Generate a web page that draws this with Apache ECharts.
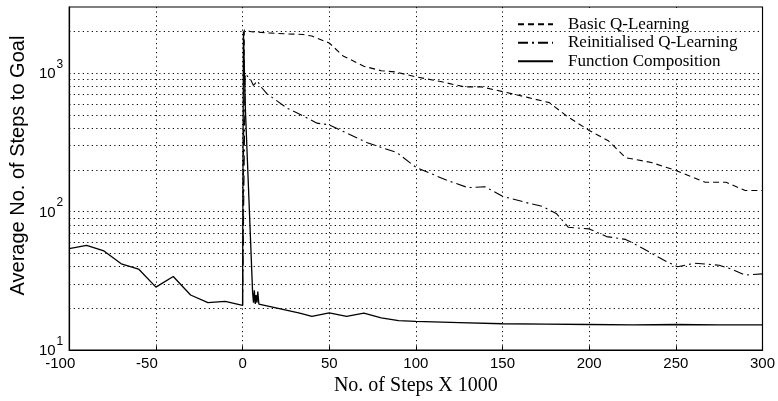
<!DOCTYPE html>
<html><head><meta charset="utf-8">
<script src="https://cdn.jsdelivr.net/npm/echarts@6/dist/echarts.min.js"></script>
<style>html,body{margin:0;padding:0;background:#fff}#c{width:778px;height:401px}</style>
</head><body><div id="c"></div>
<script>
const xTicks = [-100, -50, 0, 50, 100, 150, 200, 250, 300];
const seriesNames = ['Basic Q-Learning', 'Reinitialised Q-Learning', 'Function Composition'];

const basicX = [0,1,5,15,25,35,40,50,58,70,80,88,100,115,128,138,150,165,177,187,200,211,221,236,250,267,279,290,300];
const basicY = [21,2050,1990,1950,1920,1900,1850,1650,1330,1120,1040,1020,940,865,795,795,735,665,612,490,385,325,245,226,198,163,163,142,142];

const reinitX = [0,1.5,4.6,6.3,8.6,10.3,14,26,33,43,50,56,72,89,100,118,130,140,150,165,173,181,188,200,210,221,229,244,251,261,275,282,290,300];
const reinitY = [21,990,900,815,880,805,710,555,505,435,423,390,314,267,209,168,149,151,129,115,109,97,77,75,66,63,56,44,40,42.4,41,38.5,34.8,35.5];

const fcX = [-100,-90,-80,-70,-60,-50,-40,-30,-20,-10,0,0.5,1.6,5.8,6.3,6.8,7.3,7.8,8.3,8.8,9.4,10.3,33,40,50,60,70,80,90,100,125,150,175,200,225,250,275,300];
const fcY = [54,57,52,42,38.5,28.5,34,25,22,22.5,21,2000,560,26,22,27,21.5,25,22,26.5,21.5,21.2,18.5,17.5,18.6,17.5,18.5,17.1,16.3,16.1,15.8,15.5,15.4,15.3,15.2,15.3,15.2,15.2];

const yGridValues = [20,30,40,50,60,70,80,90,100,200,300,400,500,600,700,800,900,1000,2000];

function zip(xs, ys) { return xs.map((x, i) => [x, ys[i]]); }

const SANS = '"Liberation Sans", Arial, Helvetica, sans-serif';
const SERIF = '"Liberation Serif", "Times New Roman", serif';

const chart = echarts.init(document.getElementById('c'), null, {renderer: 'canvas'});
chart.setOption({
  animation: false,
  backgroundColor: '#fff',
  grid: {left: 68, right: 13, top: 7, bottom: 45, show: true, borderColor: '#000', borderWidth: 1.2, backgroundColor: 'transparent'},
  legend: {
    data: seriesNames,
    orient: 'vertical',
    left: 508, top: 8,
    padding: [7, 24, 6, 9],
    backgroundColor: '#fff',
    itemWidth: 35, itemHeight: 10, itemGap: 0,
    itemStyle: {opacity: 0},
    textStyle: {fontFamily: SERIF, fontSize: 17, color: '#000', lineHeight: 18.5, padding: [0, 0, 0, 10]}
  },
  xAxis: {
    type: 'value', min: xTicks[0], max: xTicks[xTicks.length - 1], interval: 50,
    name: 'No. of Steps X 1000', nameLocation: 'middle', nameGap: 21,
    nameTextStyle: {fontFamily: SERIF, fontSize: 20, color: '#000'},
    axisLine: {show: true, onZero: false, lineStyle: {color: '#000', width: 1.2}},
    axisTick: {show: true, inside: true, length: 4, lineStyle: {color: '#000'}},
    axisLabel: {
      fontFamily: SANS, fontSize: 15, color: '#000', margin: 6,
      showMinLabel: true, showMaxLabel: true,
      formatter: v => v < 0 ? '{n|' + v + '}' : String(v),
      rich: {n: {fontFamily: SANS, fontSize: 15, color: '#000', padding: [0, 18, 0, 0]}}
    },
    splitLine: {show: true, lineStyle: {color: '#000', type: [1.2, 3.3], width: 1}}
  },
  yAxis: {
    type: 'log', logBase: 10, min: 10, max: 3000,
    name: 'Average No. of Steps to Goal', nameLocation: 'middle', nameGap: 38,
    nameTextStyle: {fontFamily: SANS, fontSize: 20, color: '#000', padding: [0, 0, 0, 26]},
    axisLine: {show: true, onZero: false, lineStyle: {color: '#000', width: 1.2}},
    axisTick: {show: false},
    splitLine: {show: false},
    axisLabel: {
      margin: 6, color: '#000',
      showMinLabel: true, showMaxLabel: true,
      formatter: v => {
        const e = Math.log10(v);
        if (Math.abs(e - Math.round(e)) > 1e-6) return '';
        return '{b|10}{s|' + Math.round(e) + '}';
      },
      rich: {
        b: {fontFamily: SANS, fontSize: 15, color: '#000', lineHeight: 15, padding: [2, 0, 0, 0], verticalAlign: 'middle'},
        s: {fontFamily: SANS, fontSize: 12, color: '#000', lineHeight: 12, padding: [0, 0, 17, 1], verticalAlign: 'middle'}
      }
    }
  },
  series: [
    {
      name: seriesNames[0], type: 'line', data: zip(basicX, basicY),
      symbol: 'none', smooth: false,
      lineStyle: {color: '#000', width: 1.1, type: [6, 4]}, itemStyle: {color: '#000'}
    },
    {
      name: seriesNames[1], type: 'line', data: zip(reinitX, reinitY),
      symbol: 'none', smooth: false,
      lineStyle: {color: '#000', width: 1.1, type: [10, 4, 2, 4]}, itemStyle: {color: '#000'}
    },
    {
      name: seriesNames[2], type: 'line', data: zip(fcX, fcY),
      symbol: 'none', smooth: false,
      lineStyle: {color: '#000', width: 1.3, type: 'solid'}, itemStyle: {color: '#000'},
      markLine: {
        silent: true, symbol: ['none', 'none'], label: {show: false},
        lineStyle: {color: '#000', type: [1.2, 3.3], width: 1},
        emphasis: {disabled: true},
        data: yGridValues.map(v => ({yAxis: v}))
      }
    }
  ]
});
</script>
</body></html>
